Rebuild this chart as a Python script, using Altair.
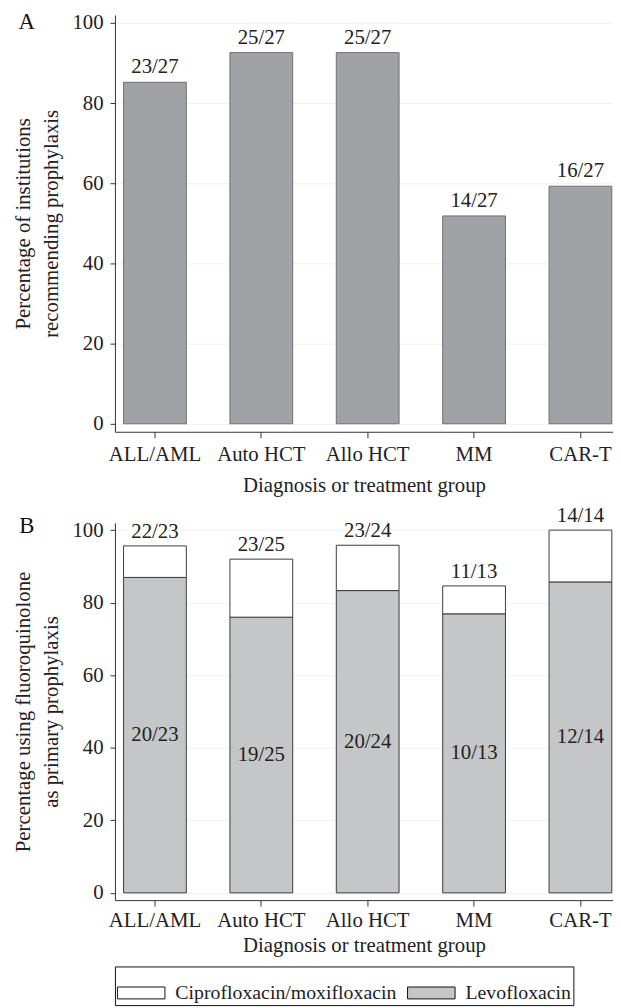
import altair as alt
import pandas as pd

groups = ["ALL/AML", "Auto HCT", "Allo HCT", "MM", "CAR-T"]
a_num = [23, 25, 25, 14, 16]
a_den = [27, 27, 27, 27, 27]
b_total_num = [22, 23, 23, 11, 14]
b_levo_num = [20, 19, 20, 10, 12]
b_den = [23, 25, 24, 13, 14]
drugs = ["Ciprofloxacin/moxifloxacin", "Levofloxacin"]
drug_colors = ["#ffffff", "#c5c6c8"]

FONT = "Liberation Serif"
FS = 21

df_a = pd.DataFrame({
    "group": groups,
    "pct": [n / d * 100 for n, d in zip(a_num, a_den)],
    "label": [f"{n}/{d}" for n, d in zip(a_num, a_den)],
})

rows = []
for g, t, l, d in zip(groups, b_total_num, b_levo_num, b_den):
    lv = l / d * 100
    tt = t / d * 100
    rows.append({"group": g, "drug": drugs[1], "start": 0, "end": lv,
                 "mid": lv / 2, "label": f"{l}/{d}"})
    rows.append({"group": g, "drug": drugs[0], "start": lv, "end": tt,
                 "mid": tt, "label": f"{t}/{d}"})
df_b = pd.DataFrame(rows)

xscale = alt.Scale(domain=groups, paddingInner=0.41, paddingOuter=0.046, align=0.88)
yscale = alt.Scale(domain=[-2, 102], nice=False, zero=False)


def xaxis(lpad, tpad):
    return alt.Axis(title="Diagnosis or treatment group", labelAngle=0, grid=False,
                    tickSize=6, labelPadding=lpad, titlePadding=tpad)


def yaxis(title):
    return alt.Axis(title=title, values=[0, 20, 40, 60, 80, 100], tickSize=5,
                    labelPadding=7, titlePadding=11, grid=True, gridColor="#f1f1f1",
                    titleLineHeight=28)


W = 503

# Panel A
base_a = alt.Chart(df_a)
bars_a = base_a.mark_bar(fill="#a1a2a6", stroke="#6f6f6f", strokeWidth=1).encode(
    x=alt.X("group:N", scale=xscale, axis=xaxis(6, 10), sort=groups),
    y=alt.Y("pct:Q", scale=yscale,
            axis=yaxis(["Percentage of institutions", "recommending prophylaxis"])),
)
text_a = base_a.mark_text(baseline="middle", dy=-15, font=FONT, fontSize=FS, color="#222").encode(
    x=alt.X("group:N", sort=groups), y="pct:Q", text="label:N")
lab_a = alt.Chart(pd.DataFrame({"p": ["A"]})).mark_text(
    font=FONT, fontSize=23, color="#111", align="center", baseline="middle").encode(
    x=alt.value(-89), y=alt.value(7), text="p:N")
panel_a = alt.layer(bars_a, text_a, lab_a).properties(width=W, height=421)

# Panel B
base_b = alt.Chart(df_b)
bars_b = base_b.mark_bar(stroke="#3c3c3c", strokeWidth=1).encode(
    x=alt.X("group:N", scale=xscale, axis=xaxis(4, 4), sort=groups),
    y=alt.Y("start:Q", scale=yscale,
            axis=yaxis(["Percentage using fluoroquinolone", "as primary prophylaxis"])),
    y2="end:Q",
    color=alt.Color("drug:N", scale=alt.Scale(domain=drugs, range=drug_colors),
                    legend=alt.Legend(
                        title=None, orient="none", direction="horizontal", columns=2,
                        legendX=0, legendY=961,
                        strokeColor="#111", padding=2, columnPadding=8,
                        labelFont=FONT, labelFontSize=20, labelColor="#222",
                        labelOffset=10, labelLimit=400,
                        symbolType="M-1,-0.25L1,-0.25L1,0.25L-1,0.25Z",
                        symbolSize=2304, symbolStrokeColor="#111",
                        symbolStrokeWidth=1, symbolOpacity=1)),
)
top_b = base_b.transform_filter(alt.datum.drug == drugs[0]).mark_text(
    baseline="middle", dy=-14, font=FONT, fontSize=FS, color="#222").encode(
    x=alt.X("group:N", sort=groups), y="mid:Q", text="label:N")
mid_b = base_b.transform_filter(alt.datum.drug == drugs[1]).mark_text(
    baseline="middle", font=FONT, fontSize=FS, color="#222").encode(
    x=alt.X("group:N", sort=groups), y="mid:Q", text="label:N")
lab_b = alt.Chart(pd.DataFrame({"p": ["B"]})).mark_text(
    font=FONT, fontSize=23, color="#111", align="center", baseline="middle").encode(
    x=alt.value(-89), y=alt.value(3), text="p:N")
panel_b = alt.layer(bars_b, top_b, mid_b, lab_b).properties(width=W, height=381)

chart = alt.vconcat(panel_a, panel_b, spacing=10).properties(
    padding={"left": 4, "top": -2, "right": 0, "bottom": 0}
).configure_view(stroke=None).configure_axis(
    labelFont=FONT, titleFont=FONT, labelFontSize=FS, titleFontSize=FS,
    titleFontWeight="normal", labelColor="#222", titleColor="#222",
    domainColor="#333", tickColor="#333", domainWidth=1, tickWidth=1,
)

chart.save("out.html", embed_options={"renderer": "svg", "actions": False})
